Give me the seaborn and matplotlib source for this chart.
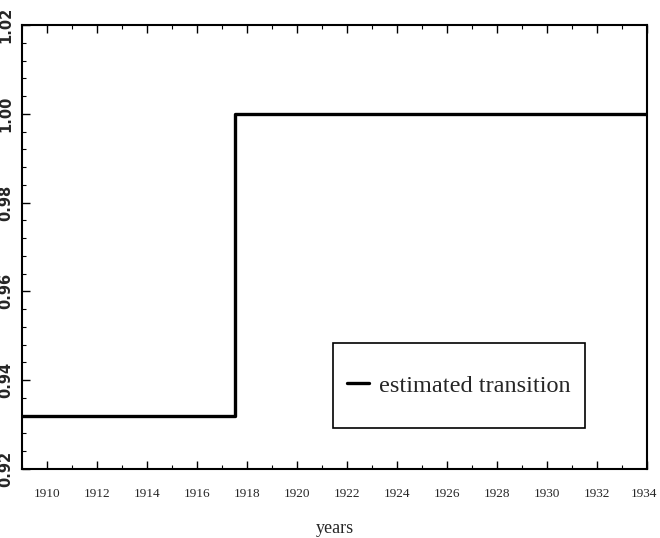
import matplotlib
matplotlib.use("Agg")
import matplotlib.pyplot as plt
import matplotlib.transforms as mtrans
import seaborn as sns
import pandas as pd
from matplotlib.patches import Rectangle
from matplotlib.ticker import MultipleLocator, FormatStrFormatter

years = [1909, 1917.5, 1934]
transition = [0.932, 1.0, 1.0]
xticks = [1910, 1912, 1914, 1916, 1918, 1920, 1922, 1924, 1926, 1928, 1930, 1932, 1934]
yticks = [0.92, 0.94, 0.96, 0.98, 1.00, 1.02]

sns.set_theme(style="ticks")
plt.rcParams['font.family'] = ['Liberation Serif', 'DejaVu Serif']

df = pd.DataFrame({"years": years, "value": transition})

fig = plt.figure(figsize=(6.6, 5.38), dpi=100)
ax = fig.add_axes([22/660, 1 - 469/538, (647-22)/660, (469-25)/538])
sns.lineplot(data=df, x="years", y="value", ax=ax, color="black", linewidth=2.4,
             drawstyle="steps-post", label="estimated transition")

ax.set_xlim(1909, 1934)
ax.set_ylim(0.92, 1.02)
ax.set_xticks(xticks)
ax.xaxis.set_minor_locator(MultipleLocator(1))
ax.set_yticks(yticks)
ax.yaxis.set_minor_locator(MultipleLocator(0.004))
ax.yaxis.set_major_formatter(FormatStrFormatter('%.2f'))
ax.tick_params(axis='both', which='both', direction='in', top=True, right=False, color='black')
ax.tick_params(axis='both', which='major', length=6, width=1)
ax.tick_params(axis='both', which='minor', length=3, width=0.8)
ax.tick_params(axis='x', labelsize=9.5, pad=14)
ax.tick_params(axis='y', labelsize=10.5, pad=6)
for lbl in ax.get_yticklabels():
    lbl.set_rotation(90)
    lbl.set_va('center')
    lbl.set_family(['DejaVu Sans'])
    lbl.set_fontweight('bold')
last = ax.get_xticklabels()[-1]
last.set_transform(last.get_transform() + mtrans.ScaledTranslation(-3/100, 0, fig.dpi_scale_trans))
for s in ax.spines.values():
    s.set_color('black')
    s.set_linewidth(1.5)

ax.set_xlabel("years", fontsize=13, labelpad=14)
ax.set_ylabel("")

leg = ax.legend(loc='center', bbox_to_anchor=(459/660, 1 - 385.5/538), bbox_transform=fig.transFigure,
                fontsize=17.5, frameon=False, handlelength=0.9, borderpad=0.2,
                handletextpad=0.4, borderaxespad=0)
fig.add_artist(Rectangle((333/660, 1 - 428/538), (585-333)/660, (428-343)/538,
                         transform=fig.transFigure, fill=False, edgecolor='black', linewidth=1.2))

fig.savefig("out.png", dpi=100)
